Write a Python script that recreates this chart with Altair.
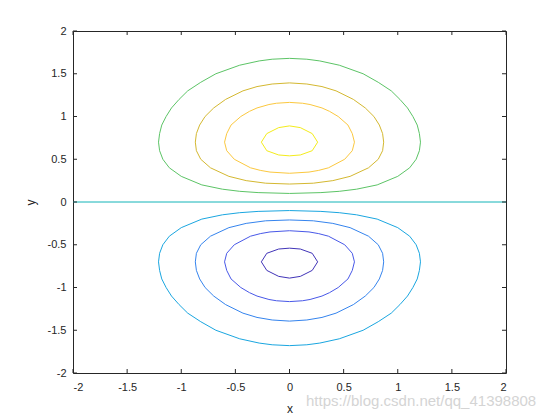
import altair as alt
import pandas as pd

# Contour levels and colours (parula-like)
LEVELS = ["-0.4", "-0.3", "-0.2", "-0.1", "0", "0.1", "0.2", "0.3", "0.4"]
COLORS = ["#4134b8", "#4858e8", "#3584ee", "#1aa6e0", "#12b4b8",
          "#5cc466", "#d4b830", "#fbc83f", "#f4ec1c"]

# Contour vertices, (x, y) in path order
C_P01 = [[0, 0.10], [0.29, 0.11], [0.46, 0.125], [0.62, 0.15], [0.81, 0.2], [1.0, 0.3],
         [1.11, 0.4], [1.17, 0.5], [1.2, 0.6], [1.21, 0.7], [1.2, 0.8], [1.18, 0.9],
         [1.14, 1.0], [1.09, 1.1], [1.02, 1.2], [0.94, 1.3], [0.82, 1.4], [0.68, 1.5],
         [0.46, 1.6], [0.28, 1.65], [0.16, 1.67], [0, 1.68], [-0.16, 1.67], [-0.28, 1.65],
         [-0.46, 1.6], [-0.68, 1.5], [-0.82, 1.4], [-0.94, 1.3], [-1.02, 1.2], [-1.09, 1.1],
         [-1.14, 1.0], [-1.18, 0.9], [-1.2, 0.8], [-1.21, 0.7], [-1.2, 0.6], [-1.17, 0.5],
         [-1.11, 0.4], [-1.0, 0.3], [-0.81, 0.2], [-0.62, 0.15], [-0.46, 0.125],
         [-0.29, 0.11], [0, 0.10]]
C_P02 = [[0, 0.21], [0.22, 0.22], [0.40, 0.25], [0.56, 0.3], [0.73, 0.4], [0.82, 0.5],
         [0.86, 0.6], [0.87, 0.7], [0.86, 0.8], [0.83, 0.9], [0.78, 1.0], [0.70, 1.1],
         [0.59, 1.2], [0.43, 1.3], [0.30, 1.35], [0.16, 1.38], [0, 1.393], [-0.16, 1.38],
         [-0.30, 1.35], [-0.43, 1.3], [-0.59, 1.2], [-0.70, 1.1], [-0.78, 1.0], [-0.83, 0.9],
         [-0.86, 0.8], [-0.87, 0.7], [-0.86, 0.6], [-0.82, 0.5], [-0.73, 0.4], [-0.56, 0.3],
         [-0.40, 0.25], [-0.22, 0.22], [0, 0.21]]
C_P03 = [[0, 0.336], [0.18, 0.35], [0.27, 0.37], [0.36, 0.4], [0.51, 0.5], [0.58, 0.6],
         [0.60, 0.7], [0.58, 0.8], [0.54, 0.9], [0.45, 1.0], [0.37, 1.06], [0.30, 1.1],
         [0.19, 1.14], [0.12, 1.155], [0, 1.165], [-0.12, 1.155], [-0.19, 1.14], [-0.30, 1.1],
         [-0.37, 1.06], [-0.45, 1.0], [-0.54, 0.9], [-0.58, 0.8], [-0.60, 0.7], [-0.58, 0.6],
         [-0.51, 0.5], [-0.36, 0.4], [-0.27, 0.37], [-0.18, 0.35], [0, 0.336]]
C_P04 = [[0, 0.54], [0.1, 0.55], [0.21, 0.6], [0.26, 0.70], [0.21, 0.80], [0.1, 0.87],
         [0, 0.89], [-0.1, 0.87], [-0.21, 0.80], [-0.26, 0.70], [-0.21, 0.6], [-0.1, 0.55],
         [0, 0.54]]
C_ZERO = [[-2, 0], [2, 0]]
C_M01 = [[0, -0.10], [0.29, -0.11], [0.46, -0.125], [0.62, -0.15], [0.81, -0.2], [1.0, -0.3],
         [1.11, -0.4], [1.17, -0.5], [1.2, -0.6], [1.21, -0.7], [1.2, -0.8], [1.18, -0.9],
         [1.14, -1.0], [1.09, -1.1], [1.02, -1.2], [0.94, -1.3], [0.82, -1.4], [0.68, -1.5],
         [0.46, -1.6], [0.28, -1.65], [0.16, -1.67], [0, -1.68], [-0.16, -1.67], [-0.28, -1.65],
         [-0.46, -1.6], [-0.68, -1.5], [-0.82, -1.4], [-0.94, -1.3], [-1.02, -1.2], [-1.09, -1.1],
         [-1.14, -1.0], [-1.18, -0.9], [-1.2, -0.8], [-1.21, -0.7], [-1.2, -0.6], [-1.17, -0.5],
         [-1.11, -0.4], [-1.0, -0.3], [-0.81, -0.2], [-0.62, -0.15], [-0.46, -0.125],
         [-0.29, -0.11], [0, -0.10]]
C_M02 = [[0, -0.21], [0.22, -0.22], [0.40, -0.25], [0.56, -0.3], [0.73, -0.4], [0.82, -0.5],
         [0.86, -0.6], [0.87, -0.7], [0.86, -0.8], [0.83, -0.9], [0.78, -1.0], [0.70, -1.1],
         [0.59, -1.2], [0.43, -1.3], [0.30, -1.35], [0.16, -1.38], [0, -1.393], [-0.16, -1.38],
         [-0.30, -1.35], [-0.43, -1.3], [-0.59, -1.2], [-0.70, -1.1], [-0.78, -1.0], [-0.83, -0.9],
         [-0.86, -0.8], [-0.87, -0.7], [-0.86, -0.6], [-0.82, -0.5], [-0.73, -0.4], [-0.56, -0.3],
         [-0.40, -0.25], [-0.22, -0.22], [0, -0.21]]
C_M03 = [[0, -0.336], [0.18, -0.35], [0.27, -0.37], [0.36, -0.4], [0.51, -0.5], [0.58, -0.6],
         [0.60, -0.7], [0.58, -0.8], [0.54, -0.9], [0.45, -1.0], [0.37, -1.06], [0.30, -1.1],
         [0.19, -1.14], [0.12, -1.155], [0, -1.165], [-0.12, -1.155], [-0.19, -1.14], [-0.30, -1.1],
         [-0.37, -1.06], [-0.45, -1.0], [-0.54, -0.9], [-0.58, -0.8], [-0.60, -0.7], [-0.58, -0.6],
         [-0.51, -0.5], [-0.36, -0.4], [-0.27, -0.37], [-0.18, -0.35], [0, -0.336]]
C_M04 = [[0, -0.54], [0.1, -0.55], [0.21, -0.6], [0.26, -0.70], [0.21, -0.80], [0.1, -0.87],
         [0, -0.89], [-0.1, -0.87], [-0.21, -0.80], [-0.26, -0.70], [-0.21, -0.6], [-0.1, -0.55],
         [0, -0.54]]

CONTOURS = {"-0.4": C_M04, "-0.3": C_M03, "-0.2": C_M02, "-0.1": C_M01, "0": C_ZERO,
            "0.1": C_P01, "0.2": C_P02, "0.3": C_P03, "0.4": C_P04}

X_TICKS = [-2, -1.5, -1, -0.5, 0, 0.5, 1, 1.5, 2]
Y_TICKS = [-2, -1.5, -1, -0.5, 0, 0.5, 1, 1.5, 2]
WATERMARK = "https://blog.csdn.net/qq_41398808"

rows = []
for lev, pts in CONTOURS.items():
    for i, (px, py) in enumerate(pts):
        rows.append({"x": px, "y": py, "level": lev, "idx": i})
df = pd.DataFrame(rows)
xt = pd.DataFrame({"x": X_TICKS})
yt = pd.DataFrame({"y": Y_TICKS})

W, H = 433, 342
FONT = "Liberation Sans"
TXT = "#262626"

xs = alt.Scale(domain=[-2, 2], nice=False, zero=False)
ys = alt.Scale(domain=[-2, 2], nice=False, zero=False)
AX_X = alt.Axis(values=X_TICKS, title="x", labelExpr="datum.value + ''",
                labelPadding=8, titleY=39, titleBaseline="alphabetic")
AX_Y = alt.Axis(values=Y_TICKS, title="y", labelExpr="datum.value + ''",
                labelPadding=7, titleX=-39, titleY=H / 2, titleAngle=270,
                titleBaseline="alphabetic", titleAlign="center")
ENC_X = alt.X("x:Q", scale=xs, axis=AX_X)
ENC_Y = alt.Y("y:Q", scale=ys, axis=AX_Y)

lines = alt.Chart(df).mark_line(strokeWidth=1, clip=True).encode(
    x=ENC_X,
    y=ENC_Y,
    color=alt.Color("level:N", scale=alt.Scale(domain=LEVELS, range=COLORS), legend=None),
    detail="level:N",
    order="idx:Q",
)

tick_len = 4
bt = alt.Chart(xt).mark_rule(color=TXT, strokeWidth=1).encode(
    x=ENC_X, y=alt.value(H), y2=alt.value(H - tick_len))
tt = alt.Chart(xt).mark_rule(color=TXT, strokeWidth=1).encode(
    x=ENC_X, y=alt.value(0), y2=alt.value(tick_len))
lt = alt.Chart(yt).mark_rule(color=TXT, strokeWidth=1).encode(
    y=ENC_Y, x=alt.value(0), x2=alt.value(tick_len))
rt = alt.Chart(yt).mark_rule(color=TXT, strokeWidth=1).encode(
    y=ENC_Y, x=alt.value(W), x2=alt.value(W - tick_len))

wm = alt.Chart(pd.DataFrame({"t": [WATERMARK]})).mark_text(
    align="left", baseline="alphabetic", font=FONT, fontSize=15, color="#d4d4d4"
).encode(text="t:N", x=alt.value(233), y=alt.value(375))

chart = alt.layer(lines, bt, tt, lt, rt, wm).properties(
    width=W, height=H,
    autosize=alt.AutoSizeParams(type="none"),
    padding={"left": 65, "top": 23, "right": 46, "bottom": 47},
    background="white",
).configure_view(
    stroke=TXT, strokeWidth=1
).configure_axis(
    domain=False, ticks=False, grid=False,
    labelFont=FONT, labelFontSize=11, labelColor=TXT,
    titleFont=FONT, titleFontSize=12, titleColor=TXT, titleFontWeight="normal",
)

chart.save("out.html", embed_options={"renderer": "svg", "actions": False})
